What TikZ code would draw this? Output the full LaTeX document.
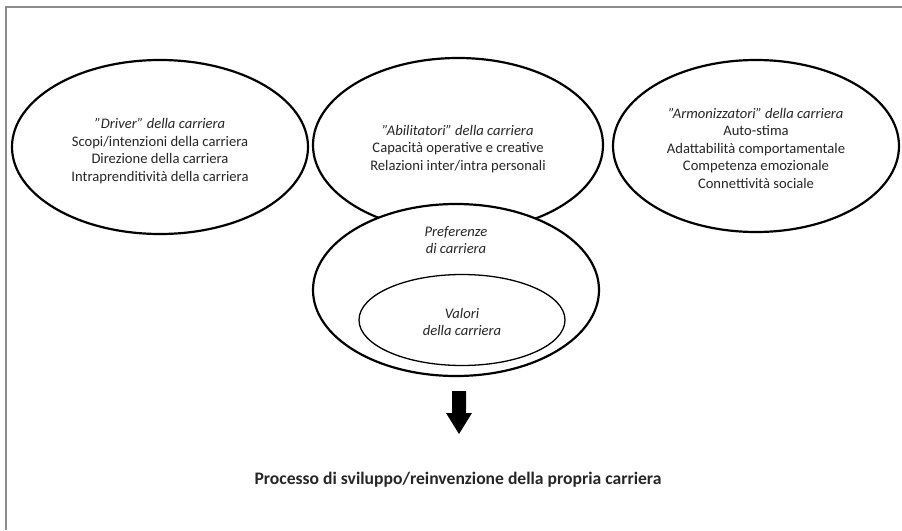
\documentclass[tikz,border=0pt]{standalone}
\usepackage{fontspec}
\setmainfont{Carlito}
\usetikzlibrary{shapes.geometric}
\definecolor{framegray}{HTML}{8C8C8C}
\tikzset{
  bigell/.style={ellipse, draw=black, line width=2.2pt, fill=white, inner sep=0pt},
  smallell/.style={ellipse, draw=black, line width=1.3pt, fill=white, inner sep=0pt},
  txt/.style={align=center, font=\fontsize{14.6}{17.5}\selectfont, text=black!85},
  frameline/.style={draw=framegray, line width=1.3pt},
}
\begin{document}
\begin{tikzpicture}[x=1pt,y=-1pt]
\useasboundingbox (0,0) rectangle (902,530);
% frame
\coordinate (fbl) at (6,530);
\coordinate (ftl) at (6,7);
\coordinate (ftr) at (902,7);
\draw[frameline] (fbl) -- (ftl) -- (ftr);
% ellipses
\node[bigell, minimum width=296pt, minimum height=174pt] (drv) at (160,147) {};
\node[bigell, minimum width=290pt, minimum height=174pt] (abi) at (458,145) {};
\node[bigell, minimum width=286pt, minimum height=172pt] (arm) at (756,146) {};
\node[bigell, minimum width=286pt, minimum height=172pt] (pref) at (456,290) {};
\node[smallell, minimum width=206pt, minimum height=91pt] (val) at (462,320) {};
% texts
\node[txt] (drvt) at (160,151) {\textit{"Driver" della carriera}\\Scopi/intenzioni della carriera\\Direzione della carriera\\Intraprenditività della carriera};
\node[txt] (abit) at (458,149) {\textit{"Abilitatori" della carriera}\\Capacità operative e creative\\Relazioni inter/intra personali};
\node[txt] (armt) at (756,148) {\textit{"Armonizzatori" della carriera}\\Auto-stima\\Adattabilità comportamentale\\Competenza emozionale\\Connettività sociale};
\node[txt] (preft) at (456,240) {\textit{Preferenze}\\\textit{di carriera}};
\node[txt] (valt) at (462,322) {\textit{Valori}\\\textit{della carriera}};
% arrow
\coordinate (ar) at (459,391);
\fill[black] (ar) ++(-7,0) -- ++(14,0) -- ++(0,22) -- ++(6,0) -- (459,434) -- (446,413) -- (452,413) -- cycle;
\node[font=\fontsize{17.6}{20}\selectfont\bfseries, text=black!85] (proc) at (458,480) {Processo di sviluppo/reinvenzione della propria carriera};
\end{tikzpicture}
\end{document}
